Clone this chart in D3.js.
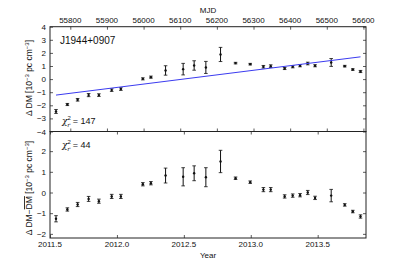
<!DOCTYPE html>
<html>
<head>
<meta charset="utf-8">
<script src="https://cdn.jsdelivr.net/npm/d3@7"></script>
<style>
  body { margin: 0; background: #fff; }
  text { font-family: "Liberation Sans", Arial, sans-serif; fill: #111; }
</style>
</head>
<body>
<div id="root"></div>
<script>
// Data
const mjd = [55761, 55792, 55820, 55850, 55878, 55913, 55938, 55998, 56020, 56060, 56108, 56138,
  56170, 56210, 56251, 56291, 56327, 56347, 56385, 56407, 56427, 56448, 56468, 56512, 56549, 56571, 56592];
const dm = [-2.47, -1.94, -1.58, -1.22, -1.22, -0.84, -0.76, 0.02, 0.15, 0.66, 0.76, 1.04,
  0.89, 1.88, 1.22, 1.14, 0.94, 0.99, 0.81, 0.94, 1.02, 1.19, 1.02, 1.27, 0.99, 0.73, 0.58];
const resid = [-1.27, -0.82, -0.58, -0.31, -0.42, -0.19, -0.19, 0.40, 0.45, 0.82, 0.76, 0.93,
  0.74, 1.50, 0.69, 0.50, 0.14, 0.14, -0.19, -0.15, -0.13, 0.0, -0.26, -0.15, -0.60, -0.92, -1.16];
const err = [0.15, 0.08, 0.1, 0.12, 0.1, 0.1, 0.1, 0.08, 0.08, 0.36, 0.44, 0.36,
  0.46, 0.54, 0.06, 0.06, 0.1, 0.1, 0.08, 0.08, 0.08, 0.1, 0.08, 0.3, 0.06, 0.06, 0.08];
const fitMjd = [55761, 56592];
const fitDm = [-1.22, 1.70];
const mjdTicks = [55800, 55900, 56000, 56100, 56200, 56300, 56400, 56500, 56600];
const yearTicks = [2011.5, 2012.0, 2012.5, 2013.0, 2013.5];
const topTicks = [-4, -3, -2, -1, 0, 1, 2, 3, 4];
const botTicks = [-2, -1, 0, 1, 2];

// Layout
const width = 407;
const height = 265;
const left = 50, right = 366;
const top1 = 26.7, bot1 = 131.5, bot2 = 238;

const toYear = m => 2011 + (m - 55562) / 365.25;

const svg = d3.select('#root')
  .append('svg')
  .attr('width', width)
  .attr('height', height);

const x = d3.scaleLinear().domain([55744.6, 56607]).range([left, right]);
const xYear = d3.scaleLinear().domain([toYear(55744.6), toYear(56607)]).range([left, right]);
const y1 = d3.scaleLinear().domain([-4, 4]).range([bot1, top1]);
const y2 = d3.scaleLinear().domain([-2.2, 2.95]).range([bot2, bot1]);

const fmtY = d3.format('d');

/**
 * Draw a panel: frame, inward ticks and the error-bar points
 */
function panel(yScale, yTicks, xScale, xTicks, values) {
  const g = svg.append('g');
  const [yb, yt] = yScale.range();

  g.append('g')
    .attr('transform', `translate(${left},0)`)
    .call(d3.axisLeft(yScale).tickValues(yTicks).tickSize(-3).tickPadding(4).tickFormat(fmtY))
    .call(a => a.selectAll('text').style('font-size', '8px'));
  g.append('g')
    .attr('transform', `translate(${right},0)`)
    .call(d3.axisRight(yScale).tickValues(yTicks).tickSize(-3).tickFormat(''));
  g.append('g')
    .attr('transform', `translate(0,${yt})`)
    .call(d3.axisTop(xScale).tickValues(xTicks).tickSize(-3).tickFormat(''));
  g.append('g')
    .attr('transform', `translate(0,${yb})`)
    .call(d3.axisBottom(xScale).tickValues(xTicks).tickSize(-3).tickFormat(''));
  g.selectAll('.domain').remove();
  g.selectAll('.tick line').attr('stroke', '#333').attr('stroke-width', 0.8);

  g.append('rect')
    .attr('x', left).attr('y', yt)
    .attr('width', right - left).attr('height', yb - yt)
    .attr('fill', 'none').attr('stroke', '#222').attr('stroke-width', 1);

  const pts = g.selectAll('.pt')
    .data(mjd.map((m, i) => ({m, v: values[i], e: err[i]})))
    .enter().append('g');
  pts.append('line')
    .attr('x1', d => x(d.m)).attr('x2', d => x(d.m))
    .attr('y1', d => yScale(d.v - d.e)).attr('y2', d => yScale(d.v + d.e))
    .attr('stroke', '#111').attr('stroke-width', 1);
  [-1, 1].forEach(s => {
    pts.append('line')
      .attr('x1', d => x(d.m) - 1.8).attr('x2', d => x(d.m) + 1.8)
      .attr('y1', d => yScale(d.v + s * d.e)).attr('y2', d => yScale(d.v + s * d.e))
      .attr('stroke', '#111').attr('stroke-width', 0.8);
  });
  pts.append('circle')
    .attr('cx', d => x(d.m)).attr('cy', d => yScale(d.v))
    .attr('r', 1.2).attr('fill', '#111');
  return g;
}

panel(y1, topTicks, x, mjdTicks, dm);
panel(y2, botTicks, xYear, yearTicks, resid);

// Fit line
svg.append('line')
  .attr('x1', x(fitMjd[0])).attr('y1', y1(fitDm[0]))
  .attr('x2', x(fitMjd[1])).attr('y2', y1(fitDm[1]))
  .attr('stroke', '#3b3bf0').attr('stroke-width', 1);

// Top MJD labels
svg.append('g').selectAll('text')
  .data(mjdTicks).enter().append('text')
  .attr('x', d => x(d)).attr('y', 22.5)
  .attr('text-anchor', 'middle').style('font-size', '8px')
  .text(d => d);
svg.append('text')
  .attr('x', 208).attr('y', 13)
  .attr('text-anchor', 'middle').style('font-size', '8px')
  .text('MJD');

// Bottom year labels
svg.append('g').selectAll('text')
  .data(yearTicks).enter().append('text')
  .attr('x', d => xYear(d)).attr('y', 247)
  .attr('text-anchor', 'middle').style('font-size', '8px')
  .text(d => d.toFixed(1));
svg.append('text')
  .attr('x', 208).attr('y', 257.5)
  .attr('text-anchor', 'middle').style('font-size', '8px')
  .text('Year');

// Y labels
const yl1 = svg.append('text')
  .attr('transform', `translate(32,78) rotate(-90)`)
  .attr('text-anchor', 'middle').style('font-size', '8.5px');
yl1.append('tspan').text('Δ DM [10');
yl1.append('tspan').attr('dy', -3).style('font-size', '6px').text('−3');
yl1.append('tspan').attr('dy', 3).text(' pc cm');
yl1.append('tspan').attr('dy', -3).style('font-size', '6px').text('−3');
yl1.append('tspan').attr('dy', 3).text(']');

const yl2 = svg.append('text')
  .attr('transform', `translate(32,188) rotate(-90)`)
  .attr('text-anchor', 'middle').style('font-size', '8.5px');
yl2.append('tspan').text('Δ DM−');
yl2.append('tspan').style('text-decoration', 'overline').text('DM');
yl2.append('tspan').text(' [10');
yl2.append('tspan').attr('dy', -3).style('font-size', '6px').text('−3');
yl2.append('tspan').attr('dy', 3).text(' pc cm');
yl2.append('tspan').attr('dy', -3).style('font-size', '6px').text('−3');
yl2.append('tspan').attr('dy', 3).text(']');

// Annotations
svg.append('text')
  .attr('x', 60).attr('y', 44)
  .style('font-size', '10px')
  .text('J1944+0907');

function chi(xp, yp, val) {
  const t = svg.append('text').attr('x', xp).attr('y', yp).style('font-size', '9px');
  t.append('tspan').style('font-style', 'italic').style('font-family', '"DejaVu Serif", serif').text('χ');
  t.append('tspan').attr('dy', -4).style('font-size', '6px').text('2');
  t.append('tspan').attr('dx', -3.5).attr('dy', 6.5).style('font-size', '6px')
    .style('font-style', 'italic').style('font-family', '"DejaVu Serif", serif').text('r');
  t.append('tspan').attr('dy', -2.5).text('  = ' + val);
}
chi(62, 124, 147);
chi(62, 148, 44);
</script>
</body>
</html>
